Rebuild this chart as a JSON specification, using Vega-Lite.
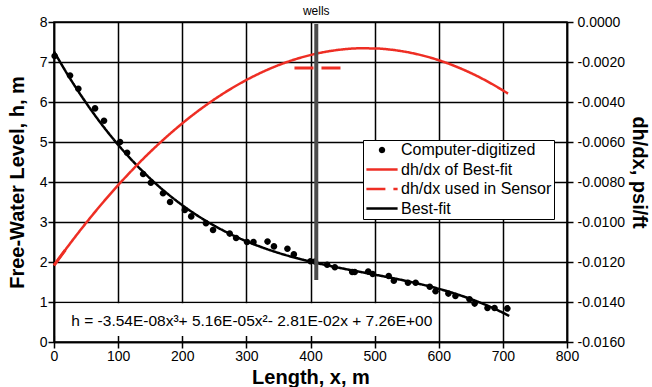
{
  "$schema": "https://vega.github.io/schema/vega-lite/v6.json",
  "width": 513,
  "height": 320,
  "autosize": "none",
  "padding": {"left": 54, "top": 22, "right": 85, "bottom": 45},
  "datasets": {
    "digitized": [
      {"x": 1, "h": 7.15}, {"x": 25, "h": 6.66}, {"x": 38, "h": 6.33}, {"x": 64, "h": 5.84},
      {"x": 78, "h": 5.53}, {"x": 103, "h": 5.0}, {"x": 114, "h": 4.73}, {"x": 139, "h": 4.2},
      {"x": 151, "h": 3.98}, {"x": 170, "h": 3.72}, {"x": 181, "h": 3.5}, {"x": 204, "h": 3.3},
      {"x": 214, "h": 3.14}, {"x": 237, "h": 2.97}, {"x": 248, "h": 2.8}, {"x": 274, "h": 2.71},
      {"x": 284, "h": 2.6}, {"x": 301, "h": 2.5}, {"x": 311, "h": 2.5}, {"x": 333, "h": 2.51},
      {"x": 343, "h": 2.39}, {"x": 364, "h": 2.33}, {"x": 374, "h": 2.19}, {"x": 400, "h": 2.02},
      {"x": 407, "h": 2.01}, {"x": 426, "h": 1.93}, {"x": 438, "h": 1.87}, {"x": 465, "h": 1.75},
      {"x": 469, "h": 1.75}, {"x": 490, "h": 1.76}, {"x": 497, "h": 1.7}, {"x": 522, "h": 1.65},
      {"x": 530, "h": 1.53}, {"x": 552, "h": 1.48}, {"x": 564, "h": 1.48}, {"x": 586, "h": 1.38},
      {"x": 595, "h": 1.27}, {"x": 615, "h": 1.21}, {"x": 626, "h": 1.15}, {"x": 648, "h": 1.07},
      {"x": 656, "h": 0.96}, {"x": 676, "h": 0.85}, {"x": 687, "h": 0.85}, {"x": 707, "h": 0.84}
    ],
    "bestFit": [
      {"x": 0, "h": 7.26}, {"x": 25, "h": 6.589}, {"x": 50, "h": 5.98}, {"x": 75, "h": 5.428},
      {"x": 100, "h": 4.931}, {"x": 125, "h": 4.485}, {"x": 150, "h": 4.087}, {"x": 175, "h": 3.733},
      {"x": 200, "h": 3.421}, {"x": 225, "h": 3.147}, {"x": 250, "h": 2.907}, {"x": 275, "h": 2.699},
      {"x": 300, "h": 2.518}, {"x": 325, "h": 2.363}, {"x": 350, "h": 2.228}, {"x": 375, "h": 2.112},
      {"x": 400, "h": 2.01}, {"x": 425, "h": 1.92}, {"x": 450, "h": 1.838}, {"x": 475, "h": 1.761},
      {"x": 500, "h": 1.685}, {"x": 525, "h": 1.607}, {"x": 550, "h": 1.524}, {"x": 575, "h": 1.433},
      {"x": 600, "h": 1.33}, {"x": 625, "h": 1.211}, {"x": 650, "h": 1.074}, {"x": 675, "h": 0.916},
      {"x": 700, "h": 0.732}, {"x": 710, "h": 0.651}
    ],
    "slope": [
      {"x": 0, "g": -0.012167}, {"x": 10, "g": -0.011725}, {"x": 25, "g": -0.011079},
      {"x": 50, "g": -0.010048}, {"x": 75, "g": -0.009074}, {"x": 100, "g": -0.008159},
      {"x": 125, "g": -0.0073}, {"x": 150, "g": -0.006499}, {"x": 175, "g": -0.005756},
      {"x": 200, "g": -0.00507}, {"x": 225, "g": -0.004441}, {"x": 250, "g": -0.00387},
      {"x": 275, "g": -0.003356}, {"x": 300, "g": -0.0029}, {"x": 325, "g": -0.002502},
      {"x": 350, "g": -0.00216}, {"x": 375, "g": -0.001877}, {"x": 400, "g": -0.001651},
      {"x": 425, "g": -0.001482}, {"x": 450, "g": -0.001371}, {"x": 475, "g": -0.001317},
      {"x": 500, "g": -0.001321}, {"x": 525, "g": -0.001382}, {"x": 550, "g": -0.001501},
      {"x": 575, "g": -0.001676}, {"x": 600, "g": -0.00191}, {"x": 625, "g": -0.002202},
      {"x": 650, "g": -0.00255}, {"x": 675, "g": -0.002956}, {"x": 700, "g": -0.00342},
      {"x": 708, "g": -0.00358}
    ],
    "sensor": [
      {"x": 0, "g": -0.012167, "seg": "start"}, {"x": 20, "g": -0.011292, "seg": "start"},
      {"x": 375, "g": -0.0023, "seg": "wells"}, {"x": 449, "g": -0.0023, "seg": "wells"}
    ]
  },
  "layer": [
    {
      "layer": [
        {
          "data": {"name": "digitized"},
          "mark": {"type": "point", "filled": true, "opacity": 1, "size": 484},
          "encoding": {
            "x": {
              "field": "x", "type": "quantitative",
              "scale": {"domain": [0, 800]},
              "axis": {"title": "Length, x, m", "values": [0, 100, 200, 300, 400, 500, 600, 700, 800], "tickCount": 12, "format": "d", "grid": true, "titlePadding": 4, "labelFlush": false}
            },
            "y": {
              "field": "h", "type": "quantitative",
              "scale": {"domain": [0, 8]},
              "axis": {"title": "Free-Water Level, h, m", "values": [0, 1, 2, 3, 4, 5, 6, 7, 8], "tickCount": 12, "format": "d", "grid": true, "titlePadding": 12}
            },
            "color": {
              "datum": "Computer-digitized",
              "scale": {
                "domain": ["Computer-digitized", "dh/dx of Best-fit", "dh/dx used in Sensor", "Best-fit"],
                "range": ["#000000", "#ee2e24", "#ee2e24", "#000000"]
              },
              "legend": {
                "title": null,
                "orient": "none",
                "legendX": 309,
                "legendY": 118,
                "padding": 2,
                "strokeColor": "black",
                "fillColor": "white",
                "symbolSize": 169,
                "symbolStrokeWidth": 2.5,
                "symbolOffset": 9,
                "labelOffset": 11,
                "rowPadding": 3.5,
                "labelFont": "Liberation Sans",
                "labelFontSize": 16,
                "labelColor": "black",
                "labelLimit": 300
              }
            },
            "shape": {
              "datum": "Computer-digitized",
              "scale": {
                "domain": ["Computer-digitized", "dh/dx of Best-fit", "dh/dx used in Sensor", "Best-fit"],
                "range": [
                  "M-0.3,0A0.3,0.3 0 1,1 0.3,0A0.3,0.3 0 1,1 -0.3,0Z",
                  "M-2.4,0H2.4",
                  "M-2.4,0H2.4",
                  "M-2.4,0H2.4"
                ]
              }
            }
          }
        },
        {
          "data": {"name": "bestFit"},
          "mark": {"type": "line", "strokeWidth": 2.5, "interpolate": "monotone"},
          "encoding": {
            "x": {"field": "x", "type": "quantitative"},
            "y": {"field": "h", "type": "quantitative"},
            "color": {"datum": "Best-fit"},
            "strokeDash": {
              "datum": "Best-fit",
              "scale": {
                "domain": ["Computer-digitized", "dh/dx of Best-fit", "dh/dx used in Sensor", "Best-fit"],
                "range": [[1, 0], [1, 0], [19, 8], [1, 0]]
              }
            }
          }
        }
      ]
    },
    {
      "layer": [
        {
          "data": {"name": "slope"},
          "mark": {"type": "line", "strokeWidth": 2.5, "interpolate": "monotone"},
          "encoding": {
            "x": {"field": "x", "type": "quantitative", "scale": {"domain": [0, 800]}, "axis": null},
            "y": {
              "field": "g", "type": "quantitative",
              "scale": {"domain": [-0.016, 0]},
              "axis": {
                "orient": "right",
                "title": "dh/dx, psi/ft",
                "titleAngle": 90,
                "titleFontSize": 20,
                "titleY": 150,
                "values": [-0.016, -0.014, -0.012, -0.01, -0.008, -0.006, -0.004, -0.002, 0],
                "tickCount": 12,
                "labelExpr": "replace(format(datum.value, '.4f'), '\u2212', '-')",
                "labelPadding": 4,
                "grid": false
              }
            },
            "color": {"datum": "dh/dx of Best-fit"},
            "strokeDash": {"datum": "dh/dx of Best-fit"}
          }
        },
        {
          "data": {"name": "sensor"},
          "mark": {"type": "line", "strokeWidth": 3},
          "encoding": {
            "x": {"field": "x", "type": "quantitative", "axis": null},
            "y": {"field": "g", "type": "quantitative"},
            "detail": {"field": "seg"},
            "color": {"datum": "dh/dx used in Sensor"},
            "strokeDash": {"datum": "dh/dx used in Sensor"}
          }
        }
      ]
    },
    {
      "layer": [
        {
          "data": {"values": [{}]},
          "mark": {"type": "rect", "fill": "white"},
          "encoding": {
            "x": {"datum": 3, "scale": {"domain": [0, 800]}, "axis": null},
            "x2": {"datum": 590},
            "y": {"datum": 0.15, "scale": {"domain": [0, 8]}, "axis": null},
            "y2": {"datum": 0.97}
          }
        },
        {
          "data": {"values": [{}]},
          "mark": {"type": "rule", "color": "#4d4d4d", "strokeWidth": 4},
          "encoding": {
            "x": {"datum": 409, "axis": null},
            "y": {"datum": 7.95, "axis": null},
            "y2": {"datum": 1.55}
          }
        },
        {
          "data": {"values": [{}]},
          "mark": {"type": "text", "text": "wells", "fontSize": 12, "font": "Liberation Sans", "baseline": "bottom", "dy": -4, "color": "black"},
          "encoding": {
            "x": {"datum": 409, "axis": null},
            "y": {"datum": 8, "axis": null}
          }
        },
        {
          "data": {"values": [{}]},
          "mark": {
            "type": "text",
            "text": "h = -3.54E-08x³+ 5.16E-05x²- 2.81E-02x + 7.26E+00",
            "fontSize": 15.5, "font": "Liberation Sans", "align": "left", "baseline": "middle", "color": "black"
          },
          "encoding": {
            "x": {"datum": 27, "axis": null},
            "y": {"datum": 0.53, "axis": null}
          }
        }
      ]
    }
  ],
  "resolve": {"scale": {"x": "independent", "y": "independent"}},
  "config": {
    "font": "Liberation Sans",
    "background": "white",
    "view": {"stroke": "black", "strokeWidth": 1.5},
    "axis": {
      "domainColor": "black",
      "domainWidth": 1.5,
      "tickColor": "black",
      "tickWidth": 1.5,
      "tickSize": 6,
      "labelColor": "black",
      "labelFont": "Liberation Sans",
      "labelFontSize": 14,
      "labelPadding": 1,
      "labelOverlap": false,
      "titleFont": "Liberation Sans",
      "titleFontSize": 20,
      "titleFontWeight": "bold",
      "titleColor": "black",
      "gridColor": "black",
      "gridWidth": 1.5,
      "gridOpacity": 1
    }
  }
}
